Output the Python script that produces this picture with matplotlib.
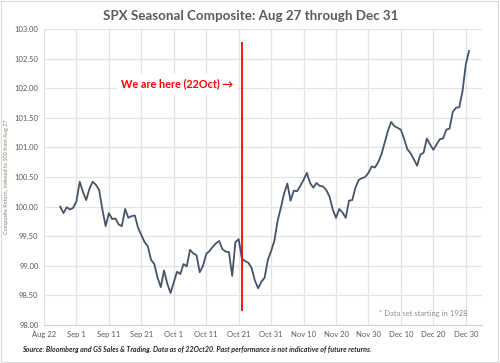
import numpy as np
import pandas as pd
import matplotlib
matplotlib.use("Agg")
import matplotlib.pyplot as plt
from matplotlib.patches import Rectangle

# Daily composite values, Aug 27 through Dec 31
start_date = "2020-08-27"
end_date = "2020-12-31"
composite = [
    100.00, 99.89, 99.99, 99.95, 99.98, 100.09, 100.42, 100.25, 100.11, 100.30,
    100.42, 100.37, 100.28, 99.95, 99.67, 99.89, 99.79, 99.80, 99.70, 99.67,
    99.96, 99.81, 99.84, 99.85, 99.64, 99.52, 99.40, 99.33, 99.10, 99.03,
    98.80, 98.64, 98.92, 98.70, 98.54, 98.72, 98.90, 98.86, 99.03, 98.99,
    99.27, 99.21, 99.18, 98.89, 99.00, 99.20, 99.25, 99.32, 99.38, 99.42,
    99.28, 99.24, 99.23, 98.83, 99.40, 99.45, 99.12, 99.08, 99.05, 98.96,
    98.75, 98.62, 98.73, 98.80, 99.10, 99.25, 99.42, 99.76, 99.98, 100.22,
    100.39, 100.10, 100.27, 100.26, 100.35, 100.45, 100.57, 100.40, 100.32, 100.40,
    100.35, 100.34, 100.28, 100.17, 99.95, 99.81, 99.96, 99.90, 99.81, 100.10,
    100.11, 100.32, 100.45, 100.48, 100.50, 100.57, 100.68, 100.66, 100.75, 100.88,
    101.08, 101.28, 101.43, 101.36, 101.33, 101.30, 101.14, 100.97, 100.90, 100.80,
    100.69, 100.88, 100.91, 101.15, 101.05, 100.96, 101.05, 101.14, 101.15, 101.30,
    101.32, 101.60, 101.67, 101.68, 101.95, 102.40, 102.63,
]
dates = pd.date_range(start_date, end_date, freq="D")

tick_dates = pd.date_range("2020-08-22", "2020-12-30", freq="10D")
tick_labels = [d.strftime("%b ") + str(d.day) for d in tick_dates]
y_ticks = [98.0, 98.5, 99.0, 99.5, 100.0, 100.5, 101.0, 101.5, 102.0, 102.5, 103.0]

marker_date = pd.Timestamp("2020-10-22")
marker_range = (98.23, 102.78)

title = "SPX Seasonal Composite: Aug 27 through Dec 31"
ylabel = "Composite Return, Indexed to 100 from Aug 27"
here_text = "We are here (22Oct) \u2192"
note_text = "* Data set starting in 1928"
source_text = ("Source: Bloomberg and GS Sales & Trading. Data as of 22Oct20. "
               "Past performance is not indicative of future returns.")

plt.rcParams["font.family"] = ["Lato", "DejaVu Sans"]

fig = plt.figure(figsize=(5.0, 3.63), dpi=100)
ax = fig.add_axes([0.088, 0.1047, 0.876, 0.8153])

# light outer frame of the chart
fig.patches.append(Rectangle((0.002, 0.002), 0.994, 0.994, transform=fig.transFigure,
                             fill=False, edgecolor="#d9d9d9", linewidth=0.8))

ax.plot(dates, composite, color="#44546a", linewidth=1.3, zorder=3,
        solid_joinstyle="round")
ax.vlines(marker_date, marker_range[0], marker_range[1], color="#ff0000",
          linewidth=1.3, zorder=4)

ax.set_xlim(pd.Timestamp("2020-08-22"), pd.Timestamp("2021-01-04"))
ax.set_ylim(98.0, 103.0)
ax.set_xticks(tick_dates)
ax.set_xticklabels(tick_labels)
ax.set_yticks(y_ticks)
ax.yaxis.set_major_formatter(plt.FuncFormatter(lambda v, p: f"{v:.2f}"))

ax.grid(True, color="#e3e3e3", linewidth=0.9)
ax.set_axisbelow(True)
for side in ["top", "right", "left"]:
    ax.spines[side].set_visible(False)
ax.spines["bottom"].set_color("#d0d0d0")
ax.tick_params(length=0, labelsize=5.5, colors="#595959", pad=4)

ax.set_ylabel(ylabel, fontsize=4.0, color="#8c7b65", labelpad=4)

fig.text(0.502, 0.955, title, ha="center", va="center", fontsize=9.6,
         fontweight="bold", color="#595959")

ax.text(pd.Timestamp("2020-10-02"), 102.07, here_text, ha="center", va="center",
        fontsize=7.8, fontweight="bold", color="#ff0000", zorder=5,
        bbox=dict(facecolor="white", edgecolor="none", pad=3))

ax.text(pd.Timestamp("2020-12-17"), 98.2, note_text, ha="center", va="center",
        fontsize=5.5, color="#8c8c8c")

fig.text(0.044, 0.037, source_text, ha="left", va="center", fontsize=5.15,
         fontweight="bold", fontstyle="italic", color="#262626")

fig.savefig("out.png", dpi=100)
